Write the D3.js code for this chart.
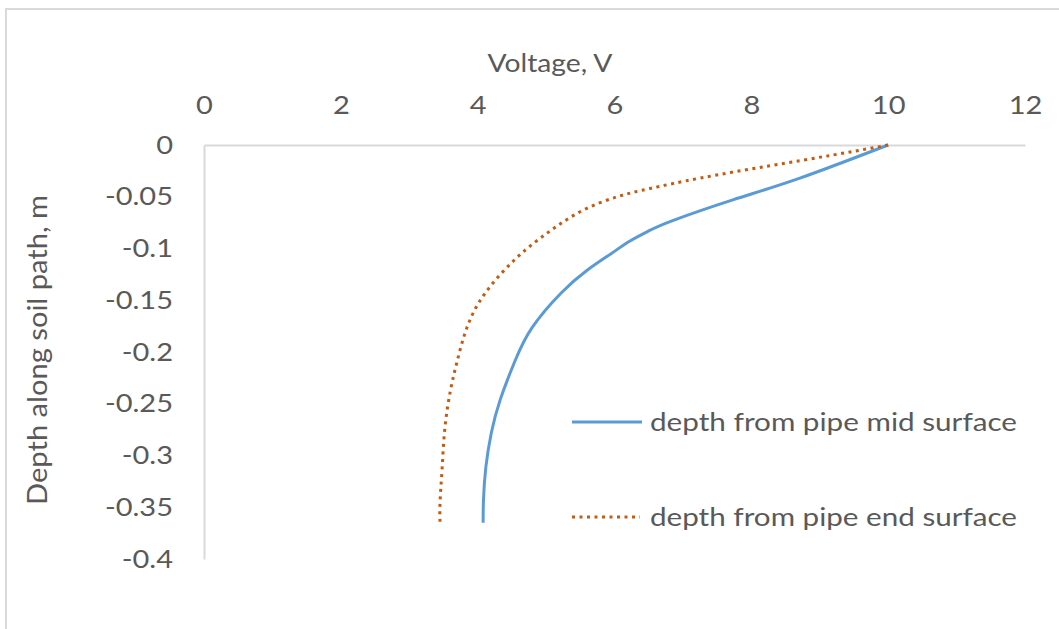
<!DOCTYPE html>
<html>
<head>
<meta charset="utf-8">
<script src="https://cdn.jsdelivr.net/npm/d3@7"></script>
<style>
  html, body { margin: 0; padding: 0; background: #fff; }
  svg { display: block; font-family: Lato, "Open Sans", sans-serif; }
</style>
</head>
<body>
<script>
// ---- data ----
const xTicks = [0, 2, 4, 6, 8, 10, 12];
const yTicks = [0, -0.05, -0.1, -0.15, -0.2, -0.25, -0.3, -0.35, -0.4];
const seriesNames = ["depth from pipe mid surface", "depth from pipe end surface"];
const midVoltage = [10.0, 8.71, 7.73, 6.85, 6.50, 6.22, 5.95, 5.60, 5.22, 4.80, 4.55, 4.33, 4.20, 4.12, 4.085, 4.08];
const midDepth   = [0, -0.032, -0.053, -0.073, -0.083, -0.093, -0.105, -0.121, -0.143, -0.176, -0.208, -0.246, -0.278, -0.311, -0.343, -0.365];
const endVoltage = [10.0, 9.19, 8.27, 7.25, 6.52, 6.04, 5.54, 5.06, 4.57, 4.10, 3.84, 3.70, 3.60, 3.52, 3.48, 3.45, 3.45];
const endDepth   = [0, -0.0097, -0.020, -0.032, -0.042, -0.050, -0.063, -0.083, -0.109, -0.144, -0.177, -0.209, -0.238, -0.274, -0.313, -0.345, -0.365];

const W = 1059, H = 629;
const svg = d3.select("body").append("svg").attr("width", W).attr("height", H);

// chart frame (top + left edges visible)
svg.append("line").attr("x1", 5).attr("x2", W).attr("y1", 9).attr("y2", 9)
  .attr("stroke", "#d9d9d9").attr("stroke-width", 2);
svg.append("line").attr("x1", 6).attr("x2", 6).attr("y1", 8).attr("y2", H)
  .attr("stroke", "#d9d9d9").attr("stroke-width", 2);

const x = d3.scaleLinear().domain([0, 12]).range([204, 1025]);
const y = d3.scaleLinear().domain([0, -0.4]).range([145, 559]);

const textColor = "#595959";
const fs = 25;
const stretch = 1.16;

function widen(sel, factor) {
  sel.each(function () {
    const w = this.getComputedTextLength();
    d3.select(this).attr("textLength", w * factor).attr("lengthAdjust", "spacingAndGlyphs");
  });
}
function fitTo(sel, width) {
  sel.attr("textLength", width).attr("lengthAdjust", "spacingAndGlyphs");
}

const xAxis = svg.append("g").attr("transform", `translate(0,${y(0)})`)
  .call(d3.axisTop(x).tickValues(xTicks).tickSize(0).tickPadding(31).tickFormat(d3.format("d")));
const yAxis = svg.append("g").attr("transform", `translate(${x(0)},0)`)
  .call(d3.axisLeft(y).tickValues(yTicks).tickSize(0).tickPadding(31).tickFormat(d => d === 0 ? "0" : String(d)));

[xAxis, yAxis].forEach(a => {
  a.select(".domain").attr("stroke", "#d9d9d9").attr("stroke-width", 2);
  a.selectAll("text").attr("fill", textColor).style("font-size", fs + "px")
    .style("font-family", "Lato, 'Open Sans', sans-serif");
  widen(a.selectAll("text"), stretch);
});

// axis titles
svg.append("text").attr("x", 550).attr("y", 72).attr("text-anchor", "middle")
  .attr("fill", textColor).style("font-size", fs + "px").text("Voltage, V")
  .call(fitTo, 125);
svg.append("text").attr("transform", `translate(47,350) rotate(-90)`).attr("text-anchor", "middle")
  .attr("fill", textColor).style("font-size", (fs + 1) + "px").text("Depth along soil path, m")
  .call(fitTo, 310);

const line = d3.line().x(d => x(d[0])).y(d => y(d[1])).curve(d3.curveNatural);

const midPts = midVoltage.map((v, i) => [v, midDepth[i]]);
const endPts = endVoltage.map((v, i) => [v, endDepth[i]]);

const blue = "#5B9BD5", orange = "#C55A11";

svg.append("path").datum(midPts).attr("d", line).attr("fill", "none")
  .attr("stroke", blue).attr("stroke-width", 3);
svg.append("path").datum(endPts).attr("d", line).attr("fill", "none")
  .attr("stroke", orange).attr("stroke-width", 3).attr("stroke-dasharray", "3,4.5");

// legend
const legend = [
  { name: seriesNames[0], color: blue, dash: null, y: 422, x2: 642 },
  { name: seriesNames[1], color: orange, dash: "3,4.5", y: 517, x2: 640 }
];
legend.forEach(l => {
  svg.append("line").attr("x1", 572).attr("x2", l.x2).attr("y1", l.y).attr("y2", l.y)
    .attr("stroke", l.color).attr("stroke-width", 3).attr("stroke-dasharray", l.dash);
  svg.append("text").attr("x", 650).attr("y", l.y).attr("dy", "0.35em")
    .attr("fill", textColor).style("font-size", fs + "px").text(l.name)
    .call(fitTo, 367);
});
</script>
</body>
</html>
